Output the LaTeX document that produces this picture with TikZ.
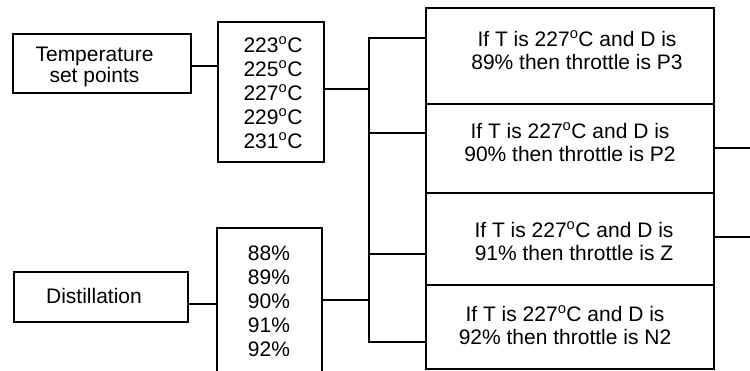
\documentclass[tikz,border=0pt]{standalone}
\usepackage{fontspec}
\setmainfont{Liberation Sans}
\newcommand{\degC}{\textsuperscript{o}C}
\begin{document}
\begin{tikzpicture}[x=1pt,y=-1pt,
  box/.style={draw, line width=1.5pt, inner sep=0pt, outer sep=0pt},
  wire/.style={line width=1.4pt},
  txt/.style={anchor=base, inner sep=0pt, font=\fontsize{21}{23}\selectfont}]
\useasboundingbox (0,0) rectangle (750,370);
% boxes
\node[box, minimum width=178pt, minimum height=59pt] (temp) at (102,63.5) {};
\node[box, minimum width=106pt, minimum height=140pt] (temps) at (271,92) {};
\node[box, minimum width=174pt, minimum height=50pt] (dist) at (101,297) {};
\node[box, minimum width=105pt, minimum height=150pt] (pct) at (269.5,303) {};
\node[box, minimum width=57pt, minimum height=304pt] (bus) at (397.5,190) {};
\node[box, minimum width=288pt, minimum height=96pt] (r1) at (570,56) {};
\node[box, minimum width=288pt, minimum height=89pt] (r2) at (570,148.5) {};
\node[box, minimum width=288pt, minimum height=92pt] (r3) at (570,239) {};
\node[box, minimum width=288pt, minimum height=84pt] (r4) at (570,327) {};
% texts
\node[txt] (t1) at (94.5,61) {Temperature};
\node[txt] (t2) at (94.5,82) {set points};
\node[txt] (v1) at (273,52) {223\degC};
\node[txt] (v2) at (273,76) {225\degC};
\node[txt] (v3) at (273,100) {227\degC};
\node[txt] (v4) at (273,124) {229\degC};
\node[txt] (v5) at (273,148) {231\degC};
\node[txt] (d1) at (94,303) {Distillation};
\node[txt] (p1) at (269,260) {88\%};
\node[txt] (p2) at (269,284.2) {89\%};
\node[txt] (p3) at (269,308.4) {90\%};
\node[txt] (p4) at (269,332.6) {91\%};
\node[txt] (p5) at (269,356.8) {92\%};
\node[txt] (a1) at (577,46) {If T is 227\degC{} and D is};
\node[txt] (a2) at (577,69) {89\% then throttle is P3};
\node[txt] (b1) at (570,138.5) {If T is 227\degC{} and D is};
\node[txt] (b2) at (570,161.5) {90\% then throttle is P2};
\node[txt] (c1) at (574,237) {If T is 227\degC{} and D is};
\node[txt] (c2) at (574,260) {91\% then throttle is Z};
\node[txt] (e1) at (565,321.5) {If T is 227\degC{} and D is};
\node[txt] (e2) at (565,344.5) {92\% then throttle is N2};
% helper coordinates
\coordinate (y1) at (0,66);
\coordinate (y2) at (0,89);
\coordinate (y3) at (0,304);
\coordinate (y4) at (0,300);
\coordinate (y5) at (0,133);
\coordinate (y6) at (0,254);
\coordinate (o1) at (750,148);
\coordinate (o2) at (750,237);
% connectors
\draw[wire] (temp.east |- y1) -- (temps.west |- y1);
\draw[wire] (temps.east |- y2) -- (bus.west |- y2);
\draw[wire] (dist.east |- y3) -- (pct.west |- y3);
\draw[wire] (pct.east |- y4) -- (bus.west |- y4);
\draw[wire] (bus.west |- y5) -- (bus.east |- y5);
\draw[wire] (bus.west |- y6) -- (bus.east |- y6);
\draw[wire] (r2.east |- o1) -- (o1);
\draw[wire] (r3.east |- o2) -- (o2);
\end{tikzpicture}
\end{document}
